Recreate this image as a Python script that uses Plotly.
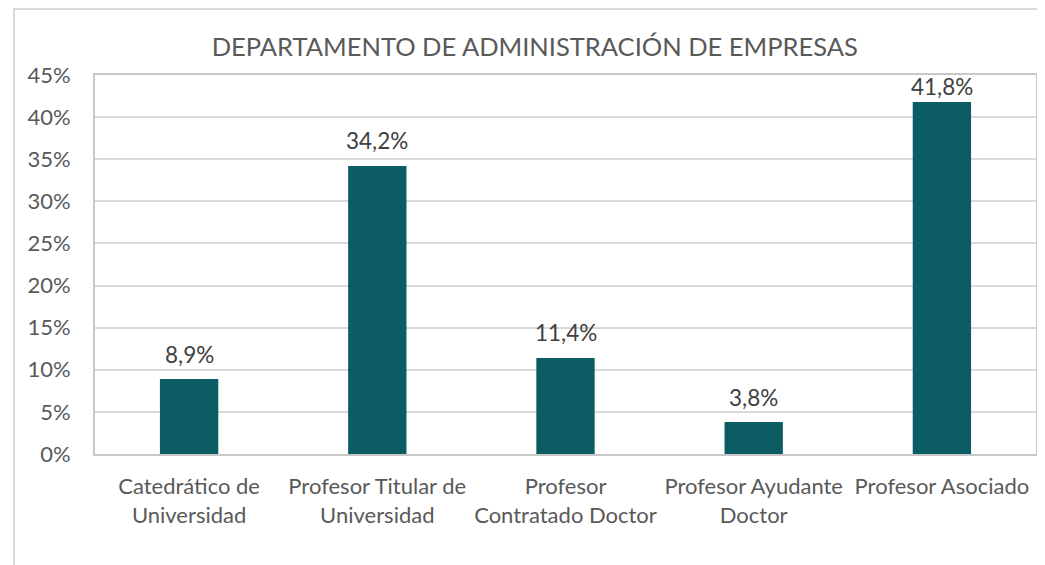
import plotly.graph_objects as go

categories = ["Catedrático de<br>Universidad", "Profesor Titular de<br>Universidad",
              "Profesor<br>Contratado Doctor", "Profesor Ayudante<br>Doctor", "Profesor Asociado"]
values = [8.9, 34.2, 11.4, 3.8, 41.8]
labels = [f"{v:.1f}%".replace(".", ",") for v in values]
title = "DEPARTAMENTO DE ADMINISTRACIÓN DE EMPRESAS"

FONT = "Lato, Open Sans, sans-serif"
Y_MAX = 45
PLOT_H = 557 - 67 - 111

fig = go.Figure(go.Bar(
    x=categories, y=values,
    marker=dict(color="#0B5C63", line=dict(width=0)),
    cliponaxis=False,
))

# data labels above bars, kept inside the plot area like Excel does
for cat, v, lab in zip(categories, values, labels):
    room = (Y_MAX - v) / Y_MAX * PLOT_H - 12
    fig.add_annotation(x=cat, y=v, text=lab, showarrow=False, yanchor="middle",
                       yshift=min(25, room),
                       font=dict(size=22.5, color="#404040", family=FONT))

fig.update_layout(
    width=1037, height=557,
    margin=dict(l=87, r=9, t=67, b=111, autoexpand=False),
    paper_bgcolor="white", plot_bgcolor="white",
    bargap=0.69, showlegend=False,
    title=dict(text=title, x=0.508, xanchor="center", xref="container", y=0.93, yref="container",
               yanchor="middle", font=dict(size=25.5, color="#595959", family=FONT)),
    font=dict(family=FONT, color="#595959"),
    shapes=[dict(type="rect", xref="paper", yref="paper", x0=-0.0861, x1=1.03, y0=-0.5, y1=1.174,
                 line=dict(color="#D9D9D9", width=2), layer="below")],
)
fig.update_yaxes(range=[0, Y_MAX], dtick=5, ticksuffix="%", showgrid=True, gridcolor="#D9D9D9",
                 gridwidth=1.5, showline=True, mirror=True, linecolor="#C8C8C8", linewidth=2,
                 tickfont=dict(size=22, color="#595959"), ticks="", zeroline=False,
                 automargin=False, ticklabelstandoff=18)
fig.update_xaxes(showline=True, mirror=True, linecolor="#C8C8C8", linewidth=2,
                 tickfont=dict(size=22, color="#595959"), ticks="", automargin=False,
                 ticklabelstandoff=12)
fig.write_html("out.html")
